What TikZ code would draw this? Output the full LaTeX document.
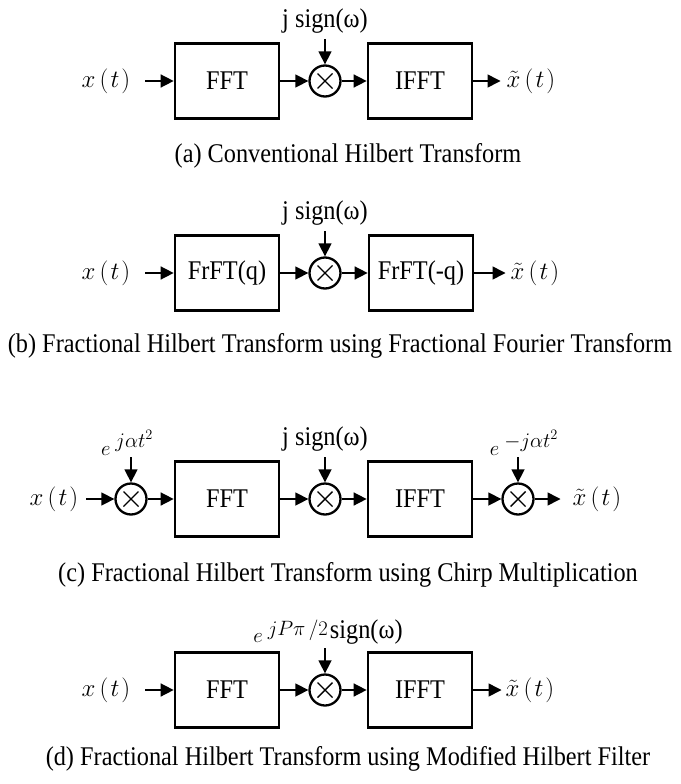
\documentclass[tikz,border=0pt]{standalone}
\usepackage{fontspec}
\setmainfont[FakeStretch=0.9]{Liberation Serif}
\usetikzlibrary{arrows.meta}
\newcommand\xt{$x\,(\mkern1.5mu t\mkern1.5mu)$}
\newcommand\xtt{$\tilde{x}\,(\mkern1.5mu t\mkern1.5mu)$}
\begin{document}
\begin{tikzpicture}[x=1pt,y=-1pt,
  every node/.style={font=\fontsize{27}{32}\selectfont, inner sep=0pt},
  blockbox/.style={draw, line width=2.7pt, minimum width=104pt, minimum height=75pt},
  mult/.style={draw, circle, line width=2.3pt, minimum size=31pt},
  sig/.style={line width=1.5pt, -{Triangle[length=13pt,width=13pt]}},
  xline/.style={line width=1.4pt},
  small/.style={font=\fontsize{20}{20}\selectfont},
  caption/.style={font=\fontsize{27}{32}\selectfont}]
\newcommand\crossin[1]{%
  \draw[xline] ([shift={(-7.5,-7.5)}]#1.center) -- ([shift={(7.5,7.5)}]#1.center);
  \draw[xline] ([shift={(-7.5,7.5)}]#1.center) -- ([shift={(7.5,-7.5)}]#1.center);}
\fill[white] (0,0) rectangle (680,784);
\useasboundingbox (0,0) rectangle (680,784);

% ---------- (a)
\def\pa{81}
\node (xa) at (106,\pa) {\xt};
\node[blockbox] (fa) at (227,\pa) {FFT};
\node[mult] (ma) at (325,\pa) {};
\node[blockbox] (ia) at (420,\pa) {IFFT};
\node (oa) at (531,\pa) {\xtt};
\node (la) at (325,\pa-60) {j sign(ω)};
\coordinate (sa) at (325,\pa-42);
\crossin{ma}
\draw[sig] ([xshift=15pt]xa.east) -- (fa.west);
\draw[sig] (fa.east) -- (ma.west);
\draw[sig] (ma.east) -- (ia.west);
\draw[sig] (ia.east) -- ([xshift=-6pt]oa.west);
\draw[sig] (sa) -- (ma.north);
\node[caption] (ca) at (348,156) {(a) Conventional Hilbert Transform};

% ---------- (b)
\def\pb{273}
\node (xb) at (106,\pb) {\xt};
\node[blockbox] (fb) at (227,\pb) {FrFT(q)};
\node[mult] (mb) at (325,\pb) {};
\node[blockbox] (ib) at (421,\pb) {FrFT(-q)};
\node (ob) at (535,\pb) {\xtt};
\node (lb) at (325,\pb-60) {j sign(ω)};
\coordinate (sb) at (325,\pb-42);
\crossin{mb}
\draw[sig] ([xshift=15pt]xb.east) -- (fb.west);
\draw[sig] (fb.east) -- (mb.west);
\draw[sig] (mb.east) -- (ib.west);
\draw[sig] (ib.east) -- ([xshift=-5pt]ob.west);
\draw[sig] (sb) -- (mb.north);
\node[caption] (cb) at (340,346) {(b) Fractional Hilbert Transform using Fractional Fourier Transform};

% ---------- (c)
\def\pc{499}
\node (xc) at (54,\pc) {\xt};
\node[mult] (mc1) at (131,\pc) {};
\node[blockbox] (fc) at (227,\pc) {FFT};
\node[mult] (mc2) at (325,\pc) {};
\node[blockbox] (ic) at (420,\pc) {IFFT};
\node[mult] (mc3) at (518,\pc) {};
\node (oc) at (597,\pc) {\xtt};
\node[small] (lc1) at (127,\pc-56) {$e$\hspace{5pt}\raisebox{8pt}{$j\alpha t^{2}$}};
\node (lc2) at (325,\pc-60) {j sign(ω)};
\node[small] (lc3) at (524,\pc-56) {$e$\hspace{5pt}\raisebox{8pt}{$-j\alpha t^{2}$}};
\coordinate (sc1) at (131,\pc-42);
\coordinate (sc2) at (325,\pc-42);
\coordinate (sc3) at (518,\pc-42);
\crossin{mc1}\crossin{mc2}\crossin{mc3}
\draw[sig] ([xshift=8pt]xc.east) -- (mc1.west);
\draw[sig] (mc1.east) -- (fc.west);
\draw[sig] (fc.east) -- (mc2.west);
\draw[sig] (mc2.east) -- (ic.west);
\draw[sig] (ic.east) -- (mc3.west);
\draw[sig] (mc3.east) -- ([xshift=-12pt]oc.west);
\draw[sig] (sc1) -- (mc1.north);
\draw[sig] (sc2) -- (mc2.north);
\draw[sig] (sc3) -- (mc3.north);
\node[caption] (cc) at (348,575) {(c) Fractional Hilbert Transform using Chirp Multiplication};

% ---------- (d)
\def\pd{690}
\node (xd) at (106,\pd) {\xt};
\node[blockbox] (fd) at (227,\pd) {FFT};
\node[mult] (md) at (325,\pd) {};
\node[blockbox] (id) at (420,\pd) {IFFT};
\node (od) at (530,\pd) {\xtt};
\node (ld) at (328,\pd-58) {{\fontsize{20}{20}\selectfont\raisebox{-4pt}{$e$}\hspace{5pt}\raisebox{3pt}{$jP\pi\,/2$}}\hspace{2pt}sign(ω)};
\coordinate (sd) at (325,\pd-42);
\crossin{md}
\draw[sig] ([xshift=15pt]xd.east) -- (fd.west);
\draw[sig] (fd.east) -- (md.west);
\draw[sig] (md.east) -- (id.west);
\draw[sig] (id.east) -- ([xshift=-4pt]od.west);
\draw[sig] (sd) -- (md.north);
\node[caption] (cd) at (348,759) {(d) Fractional Hilbert Transform using Modified Hilbert Filter};
\end{tikzpicture}
\end{document}
